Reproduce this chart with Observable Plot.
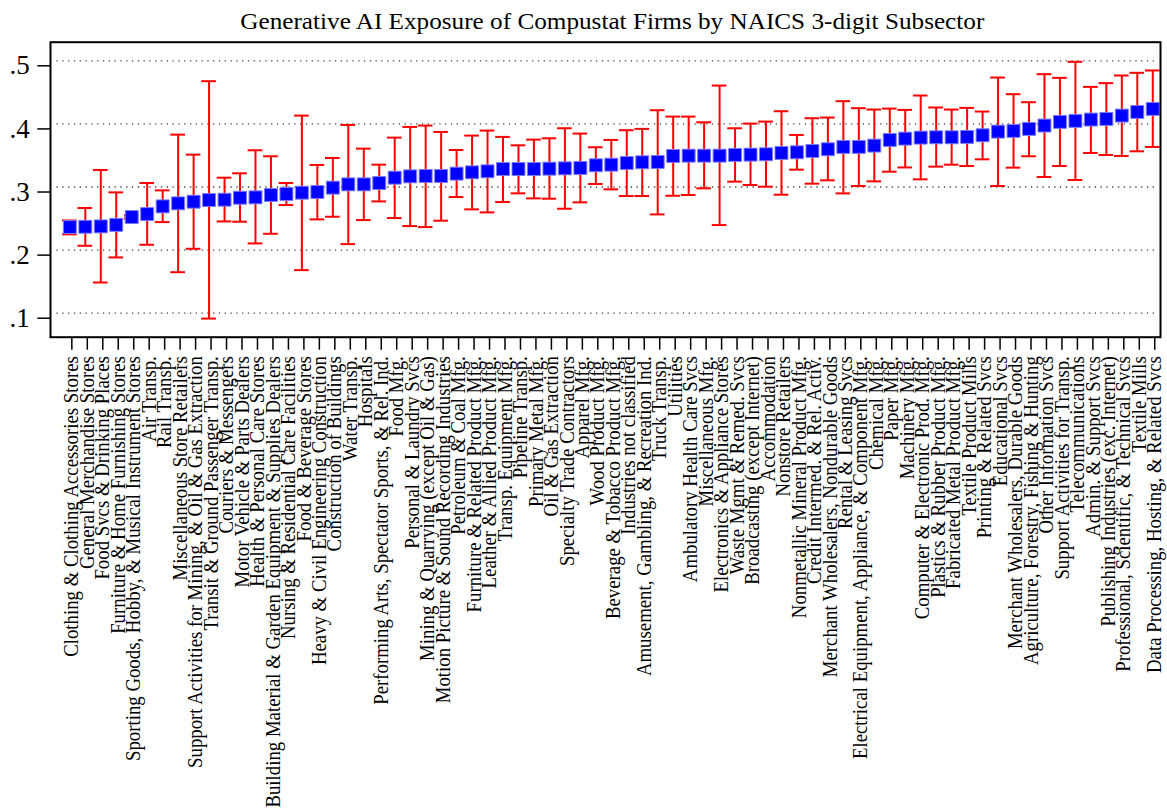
<!DOCTYPE html>
<html>
<head>
<meta charset="utf-8">
<script src="https://cdn.jsdelivr.net/npm/d3@7"></script>
<script src="https://cdn.jsdelivr.net/npm/@observablehq/plot@0.6"></script>
<style>
  html, body { margin: 0; padding: 0; background: #fff; }
  body { position: relative; width: 1167px; height: 812px; overflow: hidden; }
  #title { position: absolute; top: 8px; left: 0; width: 1224px; text-align: center; font-family: "Liberation Serif", serif; font-size: 24px; line-height: normal; color: #000; white-space: nowrap; }
  #title span { display: inline-block; transform: scaleX(1.05); }
  #chart { position: absolute; top: 34px; left: 0; }
  svg { display: block; }
</style>
</head>
<body>
<div id="title"><span>Generative AI Exposure of Compustat Firms by NAICS 3-digit Subsector</span></div>
<div id="chart"></div>
<script>
const categories = [
  "Clothing & Clothing Accessories Stores","General Merchandise Stores","Food Svcs & Drinking Places",
  "Furniture & Home Furnishing Stores","Sporting Goods, Hobby, & Musical Instrument Stores","Air Transp.",
  "Rail Transp.","Miscellaneous Store Retailers","Support Activities for Mining, & Oil & Gas Extraction",
  "Transit & Ground Passenger Transp.","Couriers & Messengers","Motor Vehicle & Parts Dealers",
  "Health & Personal Care Stores","Building Material & Garden Equipment & Supplies Dealers",
  "Nursing & Residential Care Facilities","Food & Beverage Stores","Heavy & Civil Engineering Construction",
  "Construction of Buildings","Water Transp.","Hospitals","Performing Arts, Spectator Sports, & Rel. Ind.",
  "Food Mfg.","Personal & Laundry Svcs","Mining & Quarrying (except Oil & Gas)",
  "Motion Picture & Sound Recording Industries","Petroleum & Coal Mfg.","Furniture & Related Product Mfg.",
  "Leather & Allied Product Mfg.","Transp. Equipment Mfg.","Pipeline Transp.","Primary Metal Mfg.",
  "Oil & Gas Extraction","Specialty Trade Contractors","Apparel Mfg.","Wood Product Mfg.",
  "Beverage & Tobacco Product Mfg.","Industries not classified","Amusement, Gambling, & Recreation Ind.",
  "Truck Transp.","Utilities","Ambulatory Health Care Svcs","Miscellaneous Mfg.",
  "Electronics & Appliance Stores","Waste Mgmt & Remed. Svcs","Broadcasting (except Internet)",
  "Accommodation","Nonstore Retailers","Nonmetallic Mineral Product Mfg.","Credit Intermed. & Rel. Activ.",
  "Merchant Wholesalers, Nondurable Goods","Rental & Leasing Svcs",
  "Electrical Equipment, Appliance, & Component Mfg.","Chemical Mfg.","Paper Mfg.","Machinery Mfg.",
  "Computer & Electronic Prod. Mfg.","Plastics & Rubber Product Mfg.","Fabricated Metal Product Mfg.",
  "Textile Product Mills","Printing & Related Svcs","Educational Svcs","Merchant Wholesalers, Durable Goods",
  "Agriculture, Forestry, Fishing & Hunting","Other Information Svcs","Support Activities for Transp.",
  "Telecommunications","Admin. & Support Svcs","Publishing Industries (exc. Internet)",
  "Professional, Scientific, & Technical Svcs","Textile Mills","Data Processing, Hosting, & Related Svcs"
];
const means = [0.2365,0.237,0.2376,0.240,0.2524,0.2571,0.2693,0.2741,0.2767,0.2794,0.2799,0.283,0.2836,0.2873,0.2889,0.291,0.2921,0.299,0.3042,0.3042,0.3063,0.3148,0.3169,0.3175,0.3175,0.3212,0.3233,0.3249,0.3286,0.3286,0.3286,0.3291,0.3296,0.3302,0.3344,0.3354,0.3381,0.3392,0.3397,0.3492,0.3497,0.3497,0.3497,0.3508,0.3513,0.3519,0.354,0.355,0.3571,0.3598,0.3635,0.3635,0.3656,0.3746,0.3767,0.3783,0.3788,0.3788,0.3794,0.382,0.3878,0.3889,0.3921,0.3974,0.4032,0.4048,0.4069,0.4079,0.4132,0.419,0.4238];
const highs = [0.247,0.2667,0.327,0.2915,0.255,0.3063,0.2947,0.383,0.3513,0.4677,0.3148,0.3217,0.3582,0.3487,0.3063,0.4132,0.335,0.346,0.3984,0.3608,0.3354,0.3783,0.3952,0.3974,0.3873,0.3587,0.3815,0.3894,0.3794,0.3661,0.3751,0.3772,0.3931,0.3847,0.363,0.3746,0.39,0.3921,0.4217,0.4116,0.4116,0.4026,0.4608,0.3931,0.4005,0.4037,0.4201,0.3825,0.409,0.4101,0.436,0.4249,0.4228,0.4243,0.4222,0.445,0.426,0.4228,0.4254,0.4196,0.4735,0.4471,0.4344,0.4788,0.473,0.4984,0.4587,0.4646,0.4767,0.481,0.4847];
const lows = [0.225,0.2069,0.1487,0.1884,0.250,0.2085,0.2444,0.165,0.2021,0.0915,0.2455,0.245,0.2106,0.2259,0.2714,0.1683,0.2487,0.2529,0.2095,0.2476,0.2772,0.2508,0.2381,0.2365,0.2466,0.2841,0.2646,0.2598,0.2762,0.29,0.282,0.2815,0.2656,0.2757,0.3048,0.2963,0.2857,0.2857,0.2566,0.2862,0.2873,0.2979,0.2397,0.3085,0.3032,0.3005,0.2878,0.3275,0.3053,0.3106,0.2899,0.3016,0.309,0.3243,0.331,0.3122,0.3323,0.3354,0.3333,0.3439,0.3016,0.3307,0.3487,0.3159,0.3333,0.3111,0.354,0.3508,0.3492,0.3566,0.3635];
const yTicks = [0.1, 0.2, 0.3, 0.4, 0.5];

const data = categories.map((name, i) => ({name, mean: means[i], lo: lows[i], hi: highs[i]}));
const fmt = d => d3.format(".1f")(d).replace(/^0/, "");

const chart = Plot.plot({
  width: 1167,
  height: 778,
  marginTop: 7.7,
  marginBottom: 475.3,
  marginLeft: 50,
  marginRight: 7,
  style: {fontFamily: "Liberation Serif, serif", color: "#000", background: "#fff"},
  x: {type: "band", domain: categories, range: [61.6, 1160], padding: 0},
  y: {domain: [0.062, 0.5295]},
  marks: [
    Plot.ruleY(yTicks, {stroke: "#444", strokeWidth: 1.3, strokeDasharray: "1.3,4.5", insetLeft: 6.5, insetRight: 3}),
    Plot.ruleX(data, {x: "name", y1: "lo", y2: "hi", stroke: "#ff0000", strokeWidth: 2}),
    Plot.tickY(data, {x: "name", y: "lo", stroke: "#ff0000", strokeWidth: 2, insetLeft: 0.4, insetRight: 0.4}),
    Plot.tickY(data, {x: "name", y: "hi", stroke: "#ff0000", strokeWidth: 2, insetLeft: 0.4, insetRight: 0.4}),
    Plot.dot(data, {x: "name", y: "mean", symbol: "square", r: 7.3, fill: "#0000ff", stroke: "#7a7aff", strokeWidth: 1}),
    Plot.frame({stroke: "#000", strokeWidth: 2}),
    Plot.axisY({ticks: yTicks, tickFormat: fmt, tickSize: 12.7, tickPadding: 8, fontSize: 27, dy: 5, strokeWidth: 1.5, label: null}),
    Plot.axisX({tickRotate: -90, tickSize: 13, tickPadding: 6, fontSize: 18.8, dx: 2, strokeWidth: 1.5, label: null})
  ]
});
// slight horizontal widening of the rotated tick-label glyphs, as in the reference
d3.select(chart).selectAll('g[aria-label="x-axis tick label"] text').each(function() {
  const t = this.getAttribute("transform");
  if (t) this.setAttribute("transform", t + " scale(1,1.1)");
});
document.getElementById("chart").appendChild(chart);
</script>
</body>
</html>
